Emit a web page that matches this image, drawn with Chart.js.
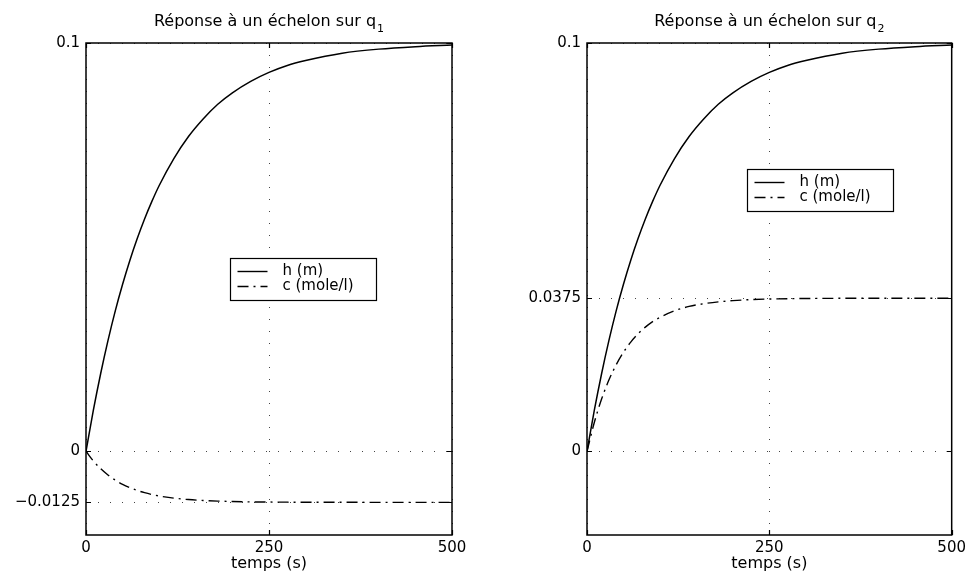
<!DOCTYPE html>
<html>
<head>
<meta charset="utf-8">
<script src="https://cdn.jsdelivr.net/npm/chart.js@4.4.0/dist/chart.umd.min.js"></script>
<style>
  html, body { margin: 0; padding: 0; background: #fff; }
  #wrap { width: 970px; height: 573px; display: flex; }
  canvas { display: block; }
</style>
</head>
<body>
<div id="wrap">
  <canvas id="chartQ1" width="485" height="573"></canvas>
  <canvas id="chartQ2" width="485" height="573"></canvas>
</div>
<script>
// temps (s)
var temps = [0, 10, 20, 30, 40, 50, 60, 70, 80, 90, 100, 120, 140, 160, 180, 200, 225, 250, 275, 300, 350, 400, 450, 500];
// h (m), identique sur les deux figures
var hauteur = [0, 0.0100, 0.0190, 0.0271, 0.0344, 0.0409, 0.0468, 0.0521, 0.0569, 0.0612, 0.0651, 0.0717, 0.0771, 0.0814, 0.0850, 0.0878, 0.0906, 0.0928, 0.0945, 0.0957, 0.0975, 0.0985, 0.0991, 0.0995];
// c (mole/l) pour un echelon sur q1 et sur q2
var concQ1 = [0, -0.00235, -0.00426, -0.00581, -0.00706, -0.00809, -0.00891, -0.00959, -0.01014, -0.01059, -0.01094, -0.01147, -0.01182, -0.01205, -0.0122, -0.0123, -0.01239, -0.01243, -0.01246, -0.01248, -0.01249, -0.0125, -0.0125, -0.0125];
var concQ2 = [0, 0.00705, 0.01279, 0.01744, 0.02119, 0.02426, 0.02674, 0.02876, 0.03041, 0.03176, 0.03281, 0.03443, 0.03548, 0.03615, 0.0366, 0.0369, 0.03716, 0.0373, 0.03738, 0.03743, 0.03747, 0.0375, 0.0375, 0.0375];
var xTicks = [0, 250, 500];
var yTicksQ1 = [-0.0125, 0, 0.1];
var yTicksQ2 = [0, 0.0375, 0.1];
var legendLabels = ['h (m)', 'c (mole/l)'];
var xLabel = 'temps (s)';

var police = 'DejaVu Sans';

function points(ys) {
  return temps.map(function(t, i) { return { x: t, y: ys[i] }; });
}

// cadre, petites graduations, titre et legende a l'interieur
var cadre = {
  id: 'cadre',
  afterDraw: function(chart, args, opts) {
    var ctx = chart.ctx, a = chart.chartArea;
    var sx = chart.scales.x, sy = chart.scales.y;
    ctx.save();
    ctx.strokeStyle = '#000';
    ctx.lineWidth = 1.5;
    ctx.strokeRect(a.left, a.top, a.right - a.left, a.bottom - a.top);

    ctx.lineWidth = 1.2;
    ctx.beginPath();
    sx.ticks.forEach(function(t) {
      var px = Math.round(sx.getPixelForValue(t.value)) + 0.5;
      ctx.moveTo(px, a.bottom); ctx.lineTo(px, a.bottom - 5);
      ctx.moveTo(px, a.top); ctx.lineTo(px, a.top + 5);
    });
    sy.ticks.forEach(function(t) {
      var py = Math.round(sy.getPixelForValue(t.value)) + 0.5;
      ctx.moveTo(a.left, py); ctx.lineTo(a.left + 5, py);
      ctx.moveTo(a.right, py); ctx.lineTo(a.right - 5, py);
    });
    ctx.stroke();

    // titre avec indice
    ctx.fillStyle = '#000';
    ctx.textBaseline = 'alphabetic';
    ctx.textAlign = 'left';
    ctx.font = '16px "' + police + '"';
    var w1 = ctx.measureText(opts.titre).width;
    ctx.font = '11px "' + police + '"';
    var w2 = ctx.measureText(opts.indice).width;
    var x0 = (a.left + a.right) / 2 - (w1 + w2 + 1) / 2;
    ctx.font = '16px "' + police + '"';
    ctx.fillText(opts.titre, x0, 26);
    ctx.font = '11px "' + police + '"';
    ctx.fillText(opts.indice, x0 + w1 + 1, 32);

    // legende
    var bx = Math.round(a.left + opts.legende.x * (a.right - a.left)) + 0.5;
    var by = Math.round(a.top + opts.legende.y * (a.bottom - a.top)) + 0.5;
    var bw = 146, bh = 42;
    ctx.fillStyle = '#fff';
    ctx.fillRect(bx, by, bw, bh);
    ctx.strokeStyle = '#000';
    ctx.lineWidth = 1.2;
    ctx.strokeRect(bx, by, bw, bh);
    ctx.font = '15px "' + police + '"';
    ctx.textBaseline = 'middle';
    chart.data.datasets.forEach(function(ds, i) {
      var ly = by + 13 + i * 15;
      ctx.beginPath();
      ctx.setLineDash(ds.borderDash || []);
      ctx.lineWidth = 1.4;
      ctx.moveTo(bx + 7, ly);
      ctx.lineTo(bx + 37, ly);
      ctx.stroke();
      ctx.setLineDash([]);
      ctx.fillStyle = '#000';
      ctx.fillText(ds.label, bx + 52, ly);
    });
    ctx.restore();
  }
};

function formatTick(v) {
  if (v < 0) return '\u2212' + String(Math.abs(v));
  return String(v);
}

function makeChart(id, conc, yTicks, indice, legende, yWidth, padRight) {
  return new Chart(document.getElementById(id), {
    type: 'line',
    data: {
      datasets: [{
        label: legendLabels[0],
        data: points(hauteur),
        borderColor: '#000',
        borderWidth: 1.5,
        pointRadius: 0,
        cubicInterpolationMode: 'monotone',
        fill: false
      }, {
        label: legendLabels[1],
        data: points(conc),
        borderColor: '#000',
        borderWidth: 1.4,
        borderDash: [11, 5, 2, 5],
        pointRadius: 0,
        cubicInterpolationMode: 'monotone',
        fill: false
      }]
    },
    options: {
      responsive: false,
      animation: false,
      devicePixelRatio: 1,
      layout: { padding: { left: 0, right: padRight, top: 43, bottom: 0 } },
      plugins: {
        legend: { display: false },
        tooltip: { enabled: false },
        cadre: { titre: 'Réponse à un échelon sur q', indice: indice, legende: legende }
      },
      scales: {
        x: {
          type: 'linear',
          min: 0,
          max: 500,
          afterBuildTicks: function(s) { s.ticks = xTicks.map(function(v) { return { value: v }; }); },
          afterFit: function(s) { s.height = 38; },
          ticks: { font: { family: police, size: 15 }, color: '#000', padding: 4, maxRotation: 0, autoSkip: false, callback: formatTick },
          grid: { color: '#444', drawTicks: false, lineWidth: 1 },
          border: { display: false, dash: [1, 11] },
          title: { display: true, text: xLabel, font: { family: police, size: 16 }, color: '#000', padding: 0 }
        },
        y: {
          type: 'linear',
          min: -0.0205,
          max: 0.1,
          afterBuildTicks: function(s) { s.ticks = yTicks.map(function(v) { return { value: v }; }); },
          afterFit: function(s) { s.width = yWidth; },
          ticks: { font: { family: police, size: 15 }, color: '#000', padding: 6, autoSkip: false, callback: formatTick },
          grid: { color: '#444', drawTicks: false, lineWidth: 1 },
          border: { display: false, dash: [1, 11] }
        }
      }
    },
    plugins: [cadre]
  });
}

makeChart('chartQ1', concQ1, yTicksQ1, '1', { x: 0.393, y: 0.437 }, 86, 33);
makeChart('chartQ2', concQ2, yTicksQ2, '2', { x: 0.439, y: 0.256 }, 102, 17);
</script>
</body>
</html>
